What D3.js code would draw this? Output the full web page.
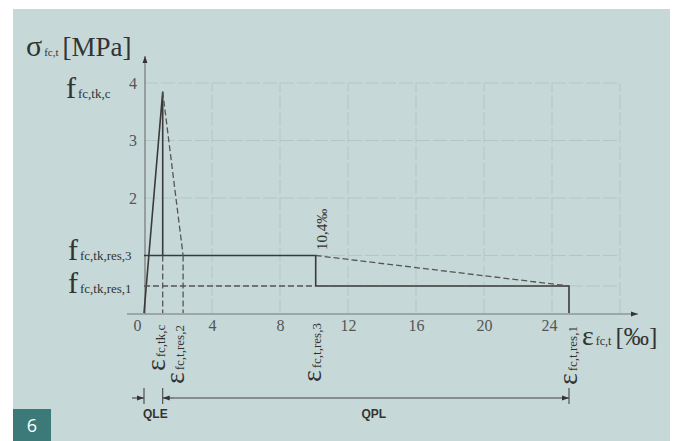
<!DOCTYPE html>
<html>
<head>
<meta charset="utf-8">
<script src="https://cdn.jsdelivr.net/npm/d3@7"></script>
<style>
  body { margin: 0; background: #fff; }
  svg text { font-family: "Liberation Serif", "DejaVu Serif", serif; }
</style>
</head>
<body>
<div id="chart"></div>
<script>
// chart values (strain in ‰, stress in MPa)
const xTicks = [0, 4, 8, 12, 16, 20, 24];
const yTicks = [2, 3, 4];
const gridX = [4, 8, 12, 16, 20, 24, 28];
const gridY = [2, 3, 4];
const ePeak = 1.1, fPeak = 3.85;
const eRes2 = 2.3, eRes3 = 10.1, eRes1 = 25;
const fRes3 = 1.0, fRes1 = 0.47;
const solidPath = [[0, 0], [ePeak, fPeak], [ePeak, fRes3]];
const solidRes3 = [[0, fRes3], [eRes3, fRes3], [eRes3, fRes1], [eRes1, fRes1], [eRes1, 0]];
const dashedLines = [
  [[ePeak, fPeak], [eRes2, fRes3]],
  [[eRes2, fRes3], [eRes2, 0]],
  [[ePeak, fRes3], [ePeak, 0]],
  [[0, fRes1], [eRes3, fRes1]],
  [[eRes3, fRes3], [eRes1, fRes1]]
];
const peakNote = "10,4‰";

const w = 677, h = 441;
const svg = d3.select('#chart').append('svg')
  .attr('width', w).attr('height', h);

svg.append('rect').attr('x', 13).attr('y', 9).attr('width', 657).attr('height', 432)
  .attr('fill', '#c6d9d8');

const x = d3.scaleLinear().domain([0, 28]).range([144, 620]);
const y = d3.scaleLinear().domain([0, 4]).range([313, 83]);
const line = d3.line().x(d => x(d[0])).y(d => y(d[1]));

// grid
const grid = svg.append('g').attr('stroke', '#b3c6c5').attr('stroke-width', 1).attr('stroke-dasharray', '14,3');
grid.selectAll('.gx').data(gridX).enter().append('line')
  .attr('x1', d => x(d)).attr('x2', d => x(d)).attr('y1', y(0)).attr('y2', y(4));
grid.selectAll('.gy').data(gridY.concat([fRes3, fRes1])).enter().append('line')
  .attr('x1', x(0)).attr('x2', x(28)).attr('y1', d => y(d)).attr('y2', d => y(d));

// axes lines with arrows
const defs = svg.append('defs');
defs.append('marker').attr('id', 'arr').attr('viewBox', '0 0 10 10').attr('refX', 10).attr('refY', 5)
  .attr('markerWidth', 9).attr('markerHeight', 7).attr('orient', 'auto-start-reverse')
  .attr('markerUnits', 'userSpaceOnUse')
  .append('path').attr('d', 'M0,1.5L10,5L0,8.5z').attr('fill', '#333');

svg.append('line').attr('x1', 127).attr('x2', 638).attr('y1', y(0) + 1).attr('y2', y(0) + 1)
  .attr('stroke', '#777').attr('stroke-width', 1.2).attr('marker-end', 'url(#arr)');
svg.append('line').attr('x1', x(0) + 1).attr('x2', x(0) + 1).attr('y1', y(0) + 1).attr('y2', 56)
  .attr('stroke', '#777').attr('stroke-width', 1.2).attr('marker-end', 'url(#arr)');

// tick labels
const xAxis = d3.axisBottom(x).tickValues(xTicks).tickSize(0).tickPadding(6).tickFormat(d3.format('d'));
const gx = svg.append('g').attr('transform', 'translate(0,' + (y(0) + 1) + ')').call(xAxis);
gx.select('.domain').remove();
gx.selectAll('text').attr('font-size', 16).attr('fill', '#555')
  .attr('dx', d => d === 0 ? -7 : (d === 24 ? -3 : 0));

const yAxis = d3.axisLeft(y).tickValues(yTicks).tickSize(0).tickPadding(7).tickFormat(d3.format('d'));
const gy = svg.append('g').attr('transform', 'translate(' + x(0) + ',0)').call(yAxis);
gy.select('.domain').remove();
gy.selectAll('text').attr('font-size', 16).attr('fill', '#555');

// curves
svg.append('path').datum(solidPath).attr('d', line).attr('fill', 'none')
  .attr('stroke', '#3a3a3a').attr('stroke-width', 1.6);
svg.append('path').datum(solidRes3).attr('d', line).attr('fill', 'none')
  .attr('stroke', '#3a3a3a').attr('stroke-width', 1.6);
svg.selectAll('.dash').data(dashedLines).enter().append('path')
  .attr('d', line).attr('fill', 'none')
  .attr('stroke', '#555').attr('stroke-width', 1.3).attr('stroke-dasharray', '6,3');

// label helper: big letter + subscript + optional rest
function label(px, py, main, sub, rest, size, subSize, rot) {
  const t = svg.append('text').attr('fill', '#333')
    .attr('transform', 'translate(' + px + ',' + py + ')' + (rot ? ' rotate(' + rot + ')' : ''));
  t.append('tspan').attr('font-size', size).text(main);
  t.append('tspan').attr('font-size', subSize).attr('dx', 2).text(sub);
  if (rest) t.append('tspan').attr('font-size', size * 0.9).attr('dx', 4).text(rest);
  return t;
}

label(26, 56, 'σ', 'fc,t', '[MPa]', 30, 11);
label(66, 98, 'f', 'fc,tk,c', null, 30, 13);
label(68, y(fRes3) + 4, 'f', 'fc,tk,res,3', null, 30, 13);
label(68, y(fRes1) + 7, 'f', 'fc,tk,res,1', null, 30, 13);
label(582, 345, 'ε', 'fc,t', '[‰]', 28, 12);

label(x(ePeak) + 2, 371, 'ε', 'fc,tk,c', null, 28, 13, -90);
label(x(eRes2) + 1, 384, 'ε', 'fc,t,res,2', null, 28, 13, -90);
label(x(eRes3) + 5, 382, 'ε', 'fc,t,res,3', null, 28, 13, -90);
label(x(eRes1) + 8, 385, 'ε', 'fc,t,res,1', null, 28, 13, -90);

svg.append('text').attr('transform', 'translate(' + (x(eRes3) + 11) + ',' + 250 + ') rotate(-90)')
  .attr('font-size', 15).attr('fill', '#333').text(peakNote);

// dimension lines QLE / QPL
const dimY = 398;
const dim = svg.append('g').attr('stroke', '#444').attr('stroke-width', 1.1);
[0, ePeak, eRes1].forEach(v => {
  dim.append('line').attr('x1', x(v)).attr('x2', x(v)).attr('y1', dimY - 10).attr('y2', dimY + 6);
});
dim.append('line').attr('x1', x(0) - 12).attr('x2', x(0)).attr('y1', dimY).attr('y2', dimY)
  .attr('marker-end', 'url(#arr)');
dim.append('line').attr('x1', x(ePeak) + 12).attr('x2', x(ePeak)).attr('y1', dimY).attr('y2', dimY)
  .attr('marker-end', 'url(#arr)');
dim.append('line').attr('x1', x(ePeak) + 12).attr('x2', x(eRes1)).attr('y1', dimY).attr('y2', dimY)
  .attr('marker-end', 'url(#arr)');

svg.append('text').attr('x', (x(0) + x(ePeak)) / 2 + 2).attr('y', 418).attr('text-anchor', 'middle')
  .style('font-family', '"Liberation Sans", Arial, sans-serif')
  .attr('font-weight', 'bold').attr('font-size', 12).attr('fill', '#333').text('QLE');
svg.append('text').attr('x', (x(ePeak) + x(eRes1)) / 2 + 8).attr('y', 418).attr('text-anchor', 'middle')
  .style('font-family', '"Liberation Sans", Arial, sans-serif')
  .attr('font-weight', 'bold').attr('font-size', 12).attr('fill', '#333').text('QPL');

// figure number box
svg.append('rect').attr('x', 13).attr('y', 409).attr('width', 38).attr('height', 32).attr('fill', '#3b7a78');
svg.append('text').attr('x', 32).attr('y', 432).attr('text-anchor', 'middle')
  .style('font-family', '"Open Sans", "DejaVu Sans", sans-serif').attr('font-size', 18)
  .attr('fill', '#fff').text('6');
</script>
</body>
</html>
